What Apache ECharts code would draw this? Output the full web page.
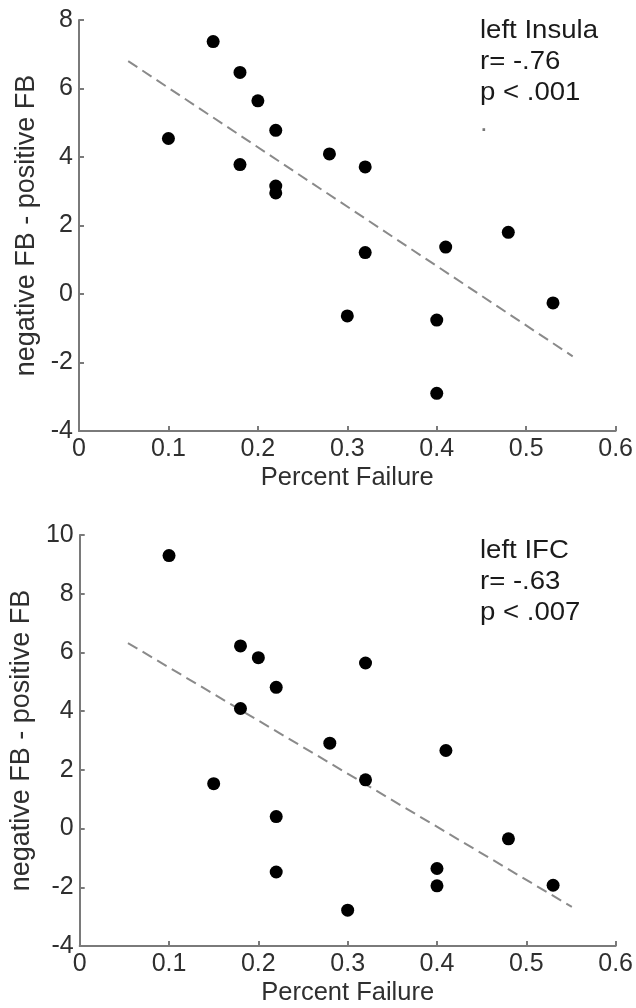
<!DOCTYPE html>
<html>
<head>
<meta charset="utf-8">
<script src="https://cdn.jsdelivr.net/npm/echarts@6/dist/echarts.min.js"></script>
<style>
  html, body { margin: 0; padding: 0; background: #fff; }
  #chart { width: 636px; height: 1008px; }
</style>
</head>
<body>
<div id="chart"></div>
<script>
// top panel: left Insula
const insulaPoints = [
  [0.10, 4.54], [0.15, 7.37], [0.18, 6.47], [0.18, 3.78], [0.20, 5.64],
  [0.22, 4.78], [0.22, 3.15], [0.22, 2.95], [0.28, 4.09], [0.32, 3.71],
  [0.32, 1.21], [0.30, -0.64], [0.40, -0.76], [0.40, -2.90], [0.41, 1.37],
  [0.48, 1.80], [0.53, -0.26]
];
const insulaFit = [[0.055, 6.80], [0.552, -1.82]];
const insulaText = ['left Insula', 'r= -.76', 'p < .001', '.'];

// bottom panel: left IFC
const ifcPoints = [
  [0.10, 9.30], [0.15, 1.53], [0.18, 6.22], [0.18, 4.09], [0.20, 5.82],
  [0.22, 4.81], [0.22, 0.41], [0.22, -1.48], [0.28, 2.91], [0.32, 5.64],
  [0.32, 1.66], [0.30, -2.78], [0.40, -1.36], [0.40, -1.95], [0.41, 2.66],
  [0.48, -0.35], [0.53, -1.93]
];
const ifcFit = [[0.054, 6.32], [0.551, -2.67]];
const ifcText = ['left IFC', 'r= -.63', 'p < .007'];

const xName = 'Percent Failure';
const yName = 'negative FB - positive FB';

const FONT = 'Liberation Sans, Arial, sans-serif';
const axisGray = '#7a7a7a';
const textGray = '#2f2f2f';

function xAx(gridIndex) {
  return {
    gridIndex: gridIndex,
    type: 'value',
    min: 0, max: 0.6, interval: 0.1,
    name: xName,
    nameLocation: 'middle',
    nameGap: 34,
    nameTextStyle: { fontFamily: FONT, fontSize: 25.5, color: textGray },
    axisLine: { show: true, onZero: false, lineStyle: { color: axisGray, width: 2 } },
    axisTick: { show: true, inside: true, length: 5, lineStyle: { color: axisGray, width: 2 } },
    axisLabel: { fontFamily: FONT, fontSize: 25, color: textGray, margin: 6, showMaxLabel: true, showMinLabel: true },
    splitLine: { show: false }
  };
}

function yAx(gridIndex, max) {
  return {
    gridIndex: gridIndex,
    type: 'value',
    min: -4, max: max, interval: 2,
    name: yName,
    nameLocation: 'middle',
    nameGap: 34,
    nameTextStyle: { fontFamily: FONT, fontSize: 27, color: textGray },
    axisLine: { show: true, onZero: false, lineStyle: { color: axisGray, width: 2 } },
    axisTick: { show: true, inside: true, length: 5, lineStyle: { color: axisGray, width: 2 } },
    axisLabel: { fontFamily: FONT, fontSize: 25, color: textGray, margin: 6, showMaxLabel: true, showMinLabel: true },
    splitLine: { show: false }
  };
}

function scatter(idx, data) {
  return {
    type: 'scatter',
    xAxisIndex: idx, yAxisIndex: idx,
    data: data,
    symbol: 'circle',
    symbolSize: 13,
    itemStyle: { color: '#000', opacity: 1 },
    z: 3
  };
}

function fit(idx, data) {
  return {
    type: 'line',
    xAxisIndex: idx, yAxisIndex: idx,
    data: data,
    showSymbol: false,
    symbol: 'none',
    lineStyle: { color: '#8a8a8a', width: 2, type: [11, 6] },
    z: 2
  };
}

function notes(lines, top) {
  return lines.map((t, i) => ({
    type: 'text',
    left: 480,
    top: top + i * 31,
    scaleX: 1.06,
    style: {
      text: t,
      font: '26px ' + FONT,
      fill: i === 3 ? '#777' : '#1a1a1a'
    }
  }));
}

const chart = echarts.init(document.getElementById('chart'));
chart.setOption({
  animation: false,
  grid: [
    { left: 79, top: 20, width: 537, height: 411 },
    { left: 79, top: 535, width: 537, height: 411 }
  ],
  xAxis: [xAx(0), xAx(1)],
  yAxis: [yAx(0, 8), yAx(1, 10)],
  series: [
    fit(0, insulaFit), scatter(0, insulaPoints),
    fit(1, ifcFit), scatter(1, ifcPoints)
  ],
  graphic: notes(insulaText, 18).concat(notes(ifcText, 538))
});
</script>
</body>
</html>
